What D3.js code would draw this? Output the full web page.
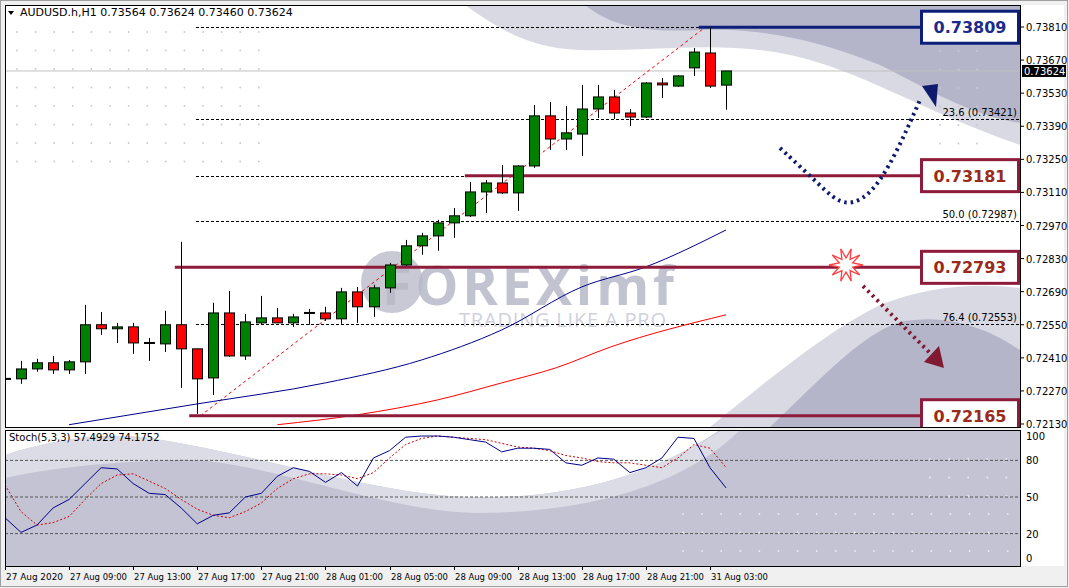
<!DOCTYPE html>
<html><head><meta charset="utf-8">
<script src="https://cdn.jsdelivr.net/npm/d3@7"></script>
<style>body{margin:0;background:#fff;font-family:Tahoma,"DejaVu Sans",sans-serif}</style>
</head><body><svg id="c" width="1069" height="588"></svg>
<script>
// candles: index, open, high, low, close
const candleIdx = d3.range(-1, 45);
const opens  = [0.72321,0.72321,0.72363,0.72389,0.72359,0.72393,0.72550,0.72533,0.72541,0.72473,0.72469,0.72550,0.72448,0.72325,0.72600,0.72418,0.72558,0.72579,0.72558,0.72600,0.72600,0.72575,0.72689,0.72626,0.72706,0.72803,0.72884,0.72926,0.72981,0.73011,0.73112,0.73150,0.73108,0.73222,0.73434,0.73336,0.73357,0.73463,0.73514,0.73446,0.73429,0.73573,0.73560,0.73637,0.73700,0.73564];
const highs  = [0.72335,0.72397,0.72406,0.72418,0.72401,0.72634,0.72604,0.72558,0.72558,0.72494,0.72609,0.72901,0.72448,0.72643,0.72693,0.72596,0.72672,0.72621,0.72596,0.72617,0.72626,0.72706,0.72710,0.72719,0.72812,0.72909,0.72939,0.72994,0.73044,0.73154,0.73163,0.73226,0.73226,0.73480,0.73493,0.73476,0.73565,0.73565,0.73544,0.73463,0.73577,0.73594,0.73607,0.73721,0.73809,0.73624];
const lows   = [0.72300,0.72300,0.72351,0.72342,0.72342,0.72342,0.72507,0.72473,0.72427,0.72397,0.72435,0.72283,0.72173,0.72253,0.72414,0.72401,0.72554,0.72558,0.72541,0.72550,0.72566,0.72554,0.72558,0.72583,0.72685,0.72799,0.72846,0.72863,0.72918,0.73006,0.73023,0.73104,0.73032,0.73214,0.73290,0.73290,0.73264,0.73425,0.73421,0.73391,0.73425,0.73510,0.73556,0.73603,0.73552,0.73460];
const closes = [0.72323,0.72363,0.72389,0.72359,0.72393,0.72550,0.72533,0.72541,0.72473,0.72475,0.72550,0.72448,0.72321,0.72600,0.72418,0.72562,0.72579,0.72558,0.72583,0.72602,0.72575,0.72689,0.72626,0.72706,0.72803,0.72884,0.72926,0.72981,0.73011,0.73112,0.73150,0.73108,0.73222,0.73434,0.73336,0.73362,0.73463,0.73514,0.73446,0.73429,0.73573,0.73565,0.73603,0.73704,0.73560,0.73624];

// moving averages (index, value)
const maBlueIdx = [3,11,19,25,30,35,39,44];
const maBlueVal = [0.72127,0.72215,0.72304,0.72401,0.72528,0.72710,0.72795,0.72951];
const maRedIdx = [16,21,26,30,33.4,36.8,44];
const maRedVal = [0.72127,0.72169,0.72232,0.72304,0.72368,0.72456,0.72592];

// stochastic %K and %D per candle
const stochK = [33,21,27,41,48,61,74,73,61,53,52,41,28,35,37,50,53,67,74,71,62,70,59,82,88,99,100,100,99,97,95,87,90,90,89,78,76,82,81,70,74,82,99,98,74,57.5];
const stochD = [60,38,27,29,34,48,61,68,69,63,57,48,40,35,33,38,45,57,65,69,69,68,65,70,82,93,98,100,99,98,97,94,91,90,88,84,82,79,78,78,76,74,82,93,90,74.2];

const fibHigh = 0.73809, fibLow = 0.72165;
const fibRatios = [0, 0.236, 0.382, 0.5, 0.618, 0.764, 1];
const fibLabels = {0.236:"23.6", 0.5:"50.0", 0.764:"76.4"};
const levels = [0.73809, 0.73181, 0.72793, 0.72165];
const levelStart = [42.3, 27.7, 9.6, 10.5];
const levelColor = ["#0b1f7a", "#8e1b3a", "#8e1b3a", "#8e1b3a"];
const levelText = ["#1b2b8a", "#9a2a1a", "#9a2a1a", "#9a2a1a"];
const priceTicks = d3.range(0, 13).map(i => 0.7213 + i * 0.0014);
const timeLabels = ["27 Aug 2020","27 Aug 09:00","27 Aug 13:00","27 Aug 17:00","27 Aug 21:00","28 Aug 01:00","28 Aug 05:00","28 Aug 09:00","28 Aug 13:00","28 Aug 17:00","28 Aug 21:00","31 Aug 03:00"];
const timeIdx = d3.range(-1, 45, 4);
const lastPrice = 0.73624;

const svg = d3.select("#c");
const L = 5, R = 1020, T = 5, B = 427, ST = 430, SB = 566;
const x = d3.scaleLinear().domain([0, 44]).range([21, 726]);
const y = d3.scaleLinear().domain([0.7213, 0.7381]).range([424, 27]);
const ys = d3.scaleLinear().domain([0, 100]).range([558, 436]);

svg.append("rect").attr("width", 1069).attr("height", 588).attr("fill", "#f0f0f0");
svg.append("rect").attr("x", L).attr("y", T).attr("width", R - L).attr("height", B - T).attr("fill", "#fff");
svg.append("rect").attr("x", L).attr("y", ST).attr("width", R - L).attr("height", SB - ST).attr("fill", "#fff");
svg.append("rect").attr("x", R).attr("y", T).attr("width", 1064 - R).attr("height", SB - T).attr("fill", "#fff");

const defs = svg.append("defs");
defs.append("clipPath").attr("id", "cm").append("rect").attr("x", L).attr("y", T).attr("width", R - L).attr("height", B - T);
defs.append("clipPath").attr("id", "cs").append("rect").attr("x", L).attr("y", ST).attr("width", R - L).attr("height", SB - ST);

const gm = svg.append("g").attr("clip-path", "url(#cm)");
// background swooshes
gm.append("path").attr("fill", "#d9d9e4").attr("d", "M465,5 C500,30 530,48 580,50 C650,52 720,40 790,55 C860,70 920,110 1020,145 L1020,5Z");
gm.append("path").attr("fill", "#b4b5c9").attr("d", "M585,5 C610,25 640,33 700,30 C770,27 830,45 880,65 C930,90 970,115 1020,123 L1020,5Z");
gm.append("path").attr("fill", "#d9d9e4").attr("d", "M710,427 C780,370 830,330 880,305 C930,285 980,283 1020,288 L1020,427Z");
gm.append("path").attr("fill", "#b4b5c9").attr("d", "M770,427 C820,380 860,335 900,322 C950,312 990,330 1020,350 L1020,427Z");
// faint dot grid
for (let i = 0; i < 14; i++) for (let j = 0; j < 8; j++)
  gm.append("circle").attr("cx", 17 + i * 18.6).attr("cy", 32 + j * 18.5).attr("r", 0.9).attr("fill", "#c8c8d4");
for (let i = 0; i < 3; i++) for (let j = 0; j < 6; j++)
  gm.append("circle").attr("cx", 940 + i * 18.5).attr("cy", 51 + j * 18.5).attr("r", 0.9).attr("fill", "#c8c8d4");

// watermark
gm.append("circle").attr("cx", 392).attr("cy", 282).attr("r", 31).attr("fill", "#babbc9").attr("opacity", 0.8);
gm.append("text").attr("x", 382).attr("y", 305).attr("font-size", 54).attr("font-weight", "bold").attr("textLength", 292)
  .attr("font-family", "'Open Sans',sans-serif").attr("fill", "#b8b9c8").attr("opacity", 0.85).text("FOREXimf");
gm.append("text").attr("x", 459).attr("y", 327).attr("font-size", 20).attr("textLength", 207)
  .attr("font-family", "'Open Sans',sans-serif").attr("fill", "#d0d1dc").text("TRADING LIKE A PRO");

// current price line
gm.append("line").attr("x1", L).attr("x2", R).attr("y1", y(lastPrice)).attr("y2", y(lastPrice)).attr("stroke", "#c0c0c0");

// fibo dashed levels
fibRatios.forEach(r => {
  const p = fibHigh - r * (fibHigh - fibLow);
  gm.append("line").attr("x1", 196).attr("x2", R).attr("y1", Math.round(y(p)) + 0.5).attr("y2", Math.round(y(p)) + 0.5)
    .attr("stroke", "#000").attr("stroke-dasharray", "3,2");
  if (fibLabels[r]) gm.append("text").attr("x", 1017).attr("y", y(p) - 3).attr("text-anchor", "end")
    .attr("font-size", 10).attr("fill", "#000").text(`${fibLabels[r]} (${p.toFixed(5)})`);
});
gm.append("line").attr("x1", x(11.2)).attr("y1", y(fibLow)).attr("x2", x(42.7)).attr("y2", y(fibHigh))
  .attr("stroke", "#ff0000").attr("stroke-dasharray", "3,3");

// moving averages
const ln = d3.line().curve(d3.curveMonotoneX);
gm.append("path").attr("fill", "none").attr("stroke", "#00008b").attr("d", ln(maBlueIdx.map((d, i) => [x(d), y(maBlueVal[i])])));
gm.append("path").attr("fill", "none").attr("stroke", "#ff0000").attr("d", ln(maRedIdx.map((d, i) => [x(d), y(maRedVal[i])])));

// level lines
levels.forEach((p, i) => {
  gm.append("line").attr("x1", x(levelStart[i])).attr("x2", 920).attr("y1", y(p)).attr("y2", y(p))
    .attr("stroke", levelColor[i]).attr("stroke-width", 3);
});

// candles
const cg = gm.append("g");
candleIdx.forEach((ix, i) => {
  const o = opens[i], c = closes[i], up = c >= o;
  const cx = Math.round(x(ix)) + 0.5;
  cg.append("line").attr("x1", cx).attr("x2", cx).attr("y1", y(highs[i])).attr("y2", y(lows[i])).attr("stroke", "#000");
  const top = y(Math.max(o, c)), h = Math.max(1, Math.abs(y(o) - y(c)));
  cg.append("rect").attr("x", cx - 5).attr("y", top).attr("width", 10).attr("height", h)
    .attr("fill", up ? "#008000" : "#ff0000").attr("stroke", "#000");
});

// forecast arrows
const dot = d3.line().curve(d3.curveBasis);
gm.append("path").attr("fill", "none").attr("stroke", "#0d1a6e").attr("stroke-width", 4).attr("stroke-dasharray", "2.5,4")
  .attr("d", dot([[780, 148], [820, 185], [845, 210], [880, 190], [920, 100]]));
gm.append("path").attr("fill", "#0d1a6e").attr("d", "M922,86 L938,84 L936,107Z");
gm.append("path").attr("fill", "none").attr("stroke", "#7f1a30").attr("stroke-width", 4).attr("stroke-dasharray", "2.5,4")
  .attr("d", "M863,286 L932,355");
gm.append("path").attr("fill", "#7f1a30").attr("d", "M944,368 L924,362 L939,346Z");
const star = d3.range(20).map(k => {
  const a = k * Math.PI / 10, r = k % 2 ? 7 : 17;
  return [846 + r * Math.cos(a), 265 + r * Math.sin(a)];
});
gm.append("path").attr("fill", "#fff").attr("stroke", "#ff4040").attr("stroke-width", 1.3).attr("d", d3.line()(star) + "Z");

// level boxes
levels.forEach((p, i) => {
  gm.append("rect").attr("x", 921.5).attr("y", y(p) - 16).attr("width", 97).attr("height", 32)
    .attr("fill", "#fff").attr("stroke", levelColor[i]).attr("stroke-width", 3);
  gm.append("text").attr("x", 970).attr("y", y(p) + 6).attr("text-anchor", "middle").attr("font-size", 16)
    .attr("font-weight", "bold").attr("fill", levelText[i]).text(p.toFixed(5));
});

svg.append("text").attr("x", 20).attr("y", 16).attr("font-size", 11).attr("fill", "#000")
  .text("AUDUSD.h,H1  0.73564 0.73624 0.73460 0.73624");
svg.append("path").attr("d", "M8,11 L14,11 L11,15Z").attr("fill", "#000");

// price axis
priceTicks.forEach(p => {
  svg.append("line").attr("x1", R).attr("x2", R + 4).attr("y1", y(p)).attr("y2", y(p)).attr("stroke", "#000");
  svg.append("text").attr("x", R + 6).attr("y", y(p) + 4).attr("font-size", 10).text(p.toFixed(5));
});
svg.append("rect").attr("x", R + 2).attr("y", y(lastPrice) - 6).attr("width", 44).attr("height", 12).attr("fill", "#000");
svg.append("text").attr("x", R + 4).attr("y", y(lastPrice) + 4).attr("font-size", 10).attr("fill", "#fff").text(lastPrice.toFixed(5));

// stochastic panel
const gs = svg.append("g").attr("clip-path", "url(#cs)");
gs.append("rect").attr("x", L).attr("y", ST).attr("width", R - L).attr("height", SB - ST).attr("fill", "#c3c3d3");
gs.append("path").attr("fill", "#fff").attr("d", "M5,430 L5,455 C50,440 100,432 150,438 C260,455 380,495 470,497 C580,500 660,470 720,430Z");
gs.append("path").attr("fill", "#dcdce6").attr("d", "M5,455 C50,440 100,432 150,438 C260,455 380,495 470,497 C580,500 660,470 722,430 L740,430 C700,470 620,512 477,513 C380,512 250,455 175,460 C100,462 40,470 5,478Z");
for (let i = 0; i < 18; i++) for (let j = 0; j < 3; j++)
  gs.append("circle").attr("cx", 683 + i * 19.1).attr("cy", 514 + j * 18.5).attr("r", 0.9).attr("fill", "#eee");
for (let i = 0; i < 6; i++) for (let j = 0; j < 3; j++)
  gs.append("circle").attr("cx", 930 + i * 19.1).attr("cy", 459 + j * 18.5).attr("r", 0.9).attr("fill", "#eee");
[80, 50, 20].forEach(v => gs.append("line").attr("x1", L).attr("x2", R).attr("y1", ys(v)).attr("y2", ys(v))
  .attr("stroke", "#555").attr("stroke-dasharray", "3,2"));
const sl = d3.line().x((d, i) => x(candleIdx[i])).y(d => ys(d));
gs.append("path").attr("fill", "none").attr("stroke", "#cc0000").attr("stroke-dasharray", "2,2").attr("d", sl(stochD));
gs.append("path").attr("fill", "none").attr("stroke", "#00008b").attr("d", sl(stochK));
svg.append("text").attr("x", 9).attr("y", 441).attr("font-size", 10).text("Stoch(5,3,3) 57.4929 74.1752");
[100, 80, 50, 20, 0].forEach(v => {
  svg.append("text").attr("x", R + 6).attr("y", ys(v) + 4).attr("font-size", 10).text(v);
});

// frames
[[L, T, B], [L, ST, SB]].forEach(([a, t, b]) => svg.append("rect").attr("x", a + 0.5).attr("y", t + 0.5)
  .attr("width", R - a).attr("height", b - t).attr("fill", "none").attr("stroke", "#000"));
svg.append("rect").attr("x", 0.5).attr("y", 0.5).attr("width", 1067).attr("height", 586).attr("fill", "none").attr("stroke", "#a0a0a0");

// time axis
timeIdx.forEach((ix, i) => {
  const tx = Math.round(x(ix));
  svg.append("line").attr("x1", tx + 0.5).attr("x2", tx + 0.5).attr("y1", SB).attr("y2", SB + 4).attr("stroke", "#000");
  svg.append("text").attr("x", tx + 1).attr("y", 580).attr("font-size", 9.5).attr("textLength", 57)
    .attr("lengthAdjust", "spacingAndGlyphs").text(timeLabels[i]);
});
</script></body></html>
